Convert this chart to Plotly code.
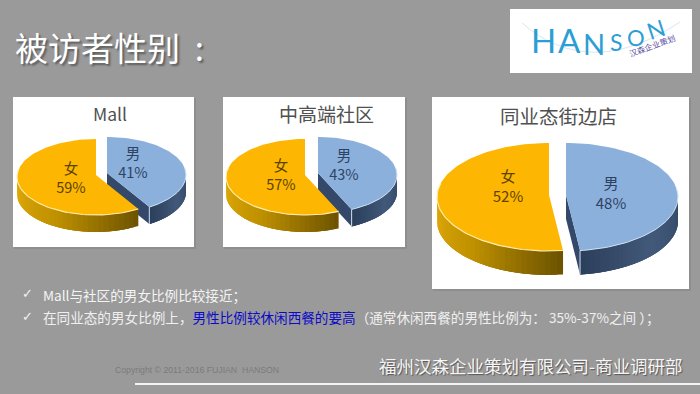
import numpy as np
import plotly.graph_objects as go

# ---------- data ----------
genders = ["男", "女"]
panel_titles = ["Mall", "中高端社区", "同业态街边店"]
male_share = [41, 43, 48]
female_share = [59, 57, 52]
page_title = "被访者性别  :"
note_one = "Mall与社区的男女比例比较接近；"
note_two_a = "在同业态的男女比例上，"
note_two_b = "男性比例较休闲西餐的要高"
note_two_c = "（通常休闲西餐的男性比例为： 35%-37%之间 ）；"
footer = "福州汉森企业策划有限公司-商业调研部"
copyright_text = "Copyright © 2011-2016 FUJIAN  HANSON"

# ---------- geometry and style (slide pixels) ----------
BG = "#9a9a9a"
CJK = "Noto Sans CJK SC"
cards = [(13, 97, 194, 247), (223, 97, 405, 247), (432, 97, 689, 289)]
title_pos = [(110, 113), (326, 113), (558, 115)]
title_size = [17.5, 19, 19.5]
pies = [
    dict(f=(96, 177), m=(107, 175), rx=79, ry=38, depth=17, lm=(133, 165), lf=(71, 180), fs=14.5),
    dict(f=(305, 177), m=(318, 175), rx=79, ry=38, depth=17, lm=(344, 167), lf=(281, 177), fs=14.5),
    dict(f=(549, 197), m=(566, 197), rx=112, ry=54, depth=24, lm=(611, 195), lf=(508, 188), fs=15),
]
N_STRIPS = 32


def mix(a, b, f):
    return "rgb(%d,%d,%d)" % tuple(round(a[i] + (b[i] - a[i]) * f) for i in range(3))


def rim(c, p, deg, dy=0.0):
    t = np.radians(deg)
    return c[0] + p["rx"] * np.sin(t), c[1] - p["ry"] * np.cos(t) + dy


fig = go.Figure()


def poly(x, y, color):
    fig.add_trace(go.Scatter(x=list(x), y=list(y), mode="lines", fill="toself", fillcolor=color,
                             line=dict(width=0), hoverinfo="skip", showlegend=False))


def wall(c, p, a0, a1, col0, col1, col2):
    edges = np.linspace(a0, a1, N_STRIPS + 1)
    for i in range(N_STRIPS):
        # each strip reaches past its neighbour, so the next one paints over the join
        arc = np.linspace(edges[i], edges[min(i + 3, N_STRIPS)], 6)
        xs, ys = rim(c, p, arc)
        f = i / (N_STRIPS - 1)
        color = mix(col0, col1, f * 2) if f < 0.5 else mix(col1, col2, (f - 0.5) * 2)
        poly([*xs, *xs[::-1], xs[0]], [*ys, *(ys[::-1] + p["depth"]), ys[0]], color)


for p, male, female in zip(pies, male_share, female_share):
    split = 360 * male / (male + female)
    # male slice: wall, cut face, top
    c = p["m"]
    wall(c, p, 90, split, (52, 74, 104), (66, 90, 122), (44, 64, 92))
    tx, ty = rim(c, p, split)
    poly([c[0], tx, tx, c[0], c[0]], [c[1] - 2, ty, ty + p["depth"], c[1] - 2 + p["depth"], c[1] - 2], "#34496a")
    a = np.linspace(0, split, 90)
    xs, ys = rim(c, p, a)
    poly([c[0], *xs, c[0]], [c[1] - 2, *ys, c[1] - 2], "#8cb0dc")
    a = np.linspace(80, split, 50)
    xs, ys = rim(c, p, a)
    fig.add_trace(go.Scatter(x=xs, y=ys, mode="lines", line=dict(width=1, color="#cfe0f2"),
                             hoverinfo="skip", showlegend=False))
    fig.add_trace(go.Scatter(x=[tx, tx], y=[ty, ty + p["depth"]], mode="lines",
                             line=dict(width=1, color="#cfe0f2"), hoverinfo="skip", showlegend=False))
    # female slice: wall, top
    c = p["f"]
    wall(c, p, split, 270, (110, 84, 0), (190, 144, 0), (226, 170, 8))
    a = np.linspace(split, 360, 90)
    xs, ys = rim(c, p, a)
    poly([c[0], *xs, c[0]], [c[1] - 2, *ys, c[1] - 2], "#fdb702")
    a = np.linspace(split, 285, 60)
    xs, ys = rim(c, p, a)
    fig.add_trace(go.Scatter(x=xs, y=ys, mode="lines", line=dict(width=1.1, color="#ffeeb0"),
                             hoverinfo="skip", showlegend=False))
    # labels
    fig.add_trace(go.Scatter(x=[p["lm"][0]], y=[p["lm"][1]], mode="text",
                             text=[f"{genders[0]}<br>{male}%"], textposition="middle center",
                             textfont=dict(family=CJK, size=p["fs"], color="#2c4364"),
                             hoverinfo="skip", showlegend=False))
    fig.add_trace(go.Scatter(x=[p["lf"][0]], y=[p["lf"][1]], mode="text",
                             text=[f"{genders[1]}<br>{female}%"], textposition="middle center",
                             textfont=dict(family=CJK, size=p["fs"], color="#5c4200"),
                             hoverinfo="skip", showlegend=False))

shapes = []
for x0, y0, x1, y1 in cards:
    shapes.append(dict(type="rect", xref="x", yref="y", x0=x0 + 1, y0=y0 + 1, x1=x1 + 2, y1=y1 + 2,
                       fillcolor="#8e8e8e", line_width=0, layer="below"))
    shapes.append(dict(type="rect", xref="x", yref="y", x0=x0, y0=y0, x1=x1, y1=y1,
                       fillcolor="#ffffff", line_width=0, layer="below"))
# logo card
shapes.append(dict(type="rect", xref="x", yref="y", x0=510, y0=9, x1=692, y1=73,
                   fillcolor="#ffffff", line_width=0, layer="below"))
shapes.append(dict(type="path", xref="x", yref="y", path="M 522 23 Q 590 82 680 22",
                   line=dict(color="#d6e8f2", width=1), layer="below"))
# footer rule
shapes.append(dict(type="line", xref="x", yref="y", x0=135, x1=700, y0=384, y1=384,
                   line=dict(color="#f4f4f4", width=2), layer="below"))


def note(x, y, text, size, color="#ffffff", anchor="left", family=CJK, angle=0, shadow=None, weight=None):
    font = dict(family=family, size=size, color=color)
    if shadow:
        font["shadow"] = shadow
    if weight:
        font["weight"] = weight
    return dict(x=x, y=y, xref="x", yref="y", text=text, showarrow=False, xanchor=anchor,
                yanchor="middle", align="left", textangle=angle, font=font)


ann = []
ann.append(note(13, 47, page_title, 33, "#ffffff", shadow="2px 2px 2px #5e5e5e"))
for t, pos, s in zip(panel_titles, title_pos, title_size):
    ann.append(note(pos[0], pos[1], t, s, "#505050", anchor="center"))
for y in (293, 316):
    ann.append(note(20, y, "✓", 13, "#f2f2f2", family="DejaVu Sans"))
ann.append(note(41, 295, note_one, 13.6, "#f4f4f4"))
ann.append(note(41, 317, note_two_a + f'<span style="color:#0a0ac8">{note_two_b}</span>' + note_two_c, 13.6, "#f0f0f0"))
ann.append(note(113, 370, copyright_text, 8.7, "#7a7a7a", family="Liberation Sans"))
ann.append(note(377, 365, footer, 17.5, "#f6f6f6", shadow="1px 1px 1px #555555"))
# logo letters
LOGO = "#2c9ed4"
for ch, x, y, s, ang in [("H", 543, 40, 33, 0), ("A", 569, 40, 33, 0), ("N", 594, 43, 29, 0),
                         ("S", 616, 42, 23, 0), ("O", 636, 37, 22, -5), ("N", 656, 29, 23, -18)]:
    ann.append(note(x, y, ch, s, LOGO, anchor="center", family="Lato", angle=ang))
ann.append(note(652, 45, "汉森企业策划", 8, "#5b4fa0", anchor="center", angle=-20))

fig.update_layout(
    width=700, height=394, margin=dict(l=0, r=0, t=0, b=0), autosize=False,
    paper_bgcolor=BG, plot_bgcolor=BG, showlegend=False,
    xaxis=dict(range=[0, 700], visible=False, fixedrange=True),
    yaxis=dict(range=[394, 0], visible=False, fixedrange=True),
    shapes=shapes, annotations=ann,
)
fig.write_html("out.html", config={"displayModeBar": False},
               post_script="document.body.style.margin='0';document.body.style.overflow='hidden';")
